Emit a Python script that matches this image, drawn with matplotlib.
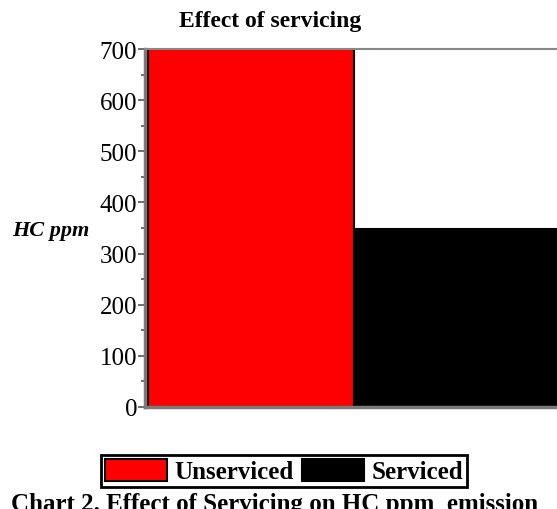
import matplotlib.pyplot as plt
from matplotlib.patches import Patch
from matplotlib.ticker import MultipleLocator

categories = ['Unserviced', 'Serviced']
hc_ppm = [700, 348]
colors = ['#ff0000', '#000000']

plt.rcParams['font.family'] = ['Liberation Serif', 'DejaVu Serif']

fig = plt.figure(figsize=(5.57, 5.10), dpi=100)
W, H = 557, 510

# axes runs past the right edge, like the cropped original
ax = fig.add_axes([145 / W, 1 - 408 / H, 420 / W, 358 / H])
ax.bar([0, 1], hc_ppm, width=1, align='edge', color=colors,
       edgecolor='black', linewidth=1.5, zorder=2)
ax.set_xlim(-0.015, 2.025)
ax.set_ylim(0, 700)

ax.yaxis.set_major_locator(MultipleLocator(100))
ax.yaxis.set_minor_locator(MultipleLocator(50))
ax.tick_params(axis='y', which='major', length=5, width=1.2, color='#555555',
               labelsize=18, pad=0.5)
ax.tick_params(axis='y', which='minor', length=3, width=1.2, color='#555555')
ax.set_xticks([])

for side in ['left', 'bottom']:
    ax.spines[side].set_color('#7a7a7a')
    ax.spines[side].set_linewidth(2.5)
ax.spines['top'].set_color('#888888')
ax.spines['top'].set_linewidth(1.5)
ax.spines['right'].set_visible(False)

fig.text(270 / W, 1 - 22 / H, 'Effect of servicing', ha='center', va='center',
         fontsize=17, fontweight='bold')
fig.text(51 / W, 1 - 231 / H, 'HC ppm', ha='center', va='center',
         fontsize=16, fontweight='bold', fontstyle='italic')

handles = [Patch(facecolor=c, edgecolor='black', linewidth=1.5) for c in colors]
leg = fig.legend(handles, categories, loc='center', ncol=2,
                 bbox_to_anchor=(284 / W, 1 - 472 / H),
                 prop={'size': 18, 'weight': 'bold'},
                 fancybox=False, edgecolor='black', framealpha=1,
                 handlelength=2.5, handleheight=1.0, handletextpad=0.3,
                 columnspacing=0.3, borderpad=0.15, borderaxespad=0)
leg.get_frame().set_linewidth(2)

fig.text(275 / W, 1 - 493 / H, 'Chart 2. Effect of Servicing on HC ppm  emission',
         ha='center', va='top', fontsize=18, fontweight='bold')

fig.savefig('out.png', dpi=100)
